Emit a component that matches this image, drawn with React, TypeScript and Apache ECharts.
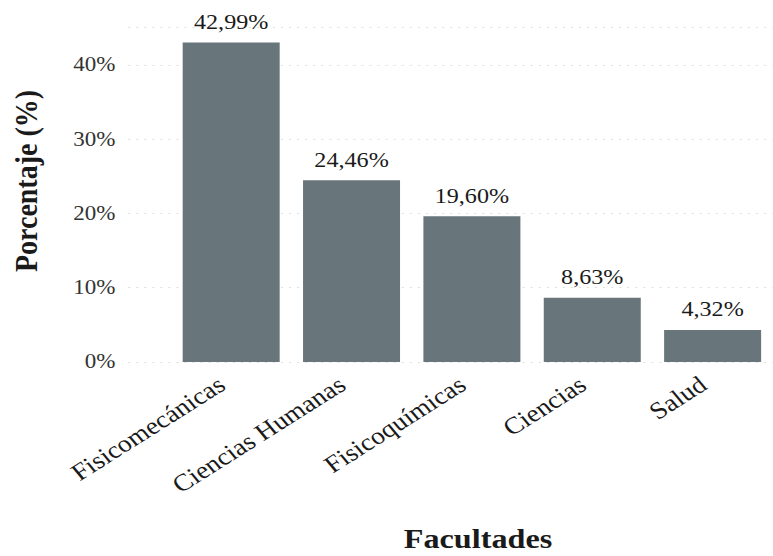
import React, { useEffect, useRef } from "react";
import * as echarts from "echarts";

const categories = ["Fisicomecánicas", "Ciencias Humanas", "Fisicoquímicas", "Ciencias", "Salud"];
const values = [42.99, 24.46, 19.6, 8.63, 4.32];
const yTicks = [0, 10, 20, 30, 40];

const FONT = "Liberation Serif";
// the reference is drawn slightly stretched horizontally
const SX = 1.15;
const W = 773;
const H = 556;
const IW = W / SX;

export default function App() {
  const ref = useRef<HTMLDivElement>(null);
  useEffect(() => {
    if (!ref.current) return;
    const chart = echarts.init(ref.current, null, { renderer: "svg" });
    const top = 27.6;
    const bottom = 194;
    chart.setOption({
      animation: false,
      backgroundColor: "#ffffff",
      textStyle: { fontFamily: FONT },
      grid: [
        { left: 128 / SX, right: -40, top, bottom, containLabel: false },
        { left: 171 / SX, width: 625 / SX, top, bottom, containLabel: false },
      ],
      xAxis: [
        { type: "value", gridIndex: 0, show: false, min: 0, max: 1 },
        {
          type: "category",
          gridIndex: 1,
          data: categories,
          axisLine: { show: false },
          axisTick: { show: false },
          axisLabel: {
            rotate: 36,
            interval: 0,
            margin: 14,
            padding: [0, 10, 0, 0],
            fontFamily: FONT,
            fontSize: 24,
            color: "#1a1a1a",
          },
        },
      ],
      yAxis: [
        {
          type: "value",
          gridIndex: 0,
          min: 0,
          max: 45,
          interval: 10,
          axisLine: { show: false },
          axisTick: { show: false },
          axisLabel: {
            formatter: (v: number) => (yTicks.includes(v) ? v + "%" : ""),
            fontFamily: FONT,
            fontSize: 20,
            color: "#333333",
            margin: 11,
          },
          splitLine: { show: true, lineStyle: { color: "#e2e2e2", type: [2, 5], width: 1 } },
        },
        { type: "value", gridIndex: 1, min: 0, max: 45, show: false, splitLine: { show: false } },
      ],
      series: [
        {
          type: "bar",
          xAxisIndex: 1,
          yAxisIndex: 1,
          data: values,
          barWidth: 97 / SX,
          itemStyle: { color: "#68757a" },
          label: {
            show: true,
            position: "top",
            distance: 10,
            fontFamily: FONT,
            fontSize: 21,
            color: "#1a1a1a",
            formatter: (p: any) => p.value.toFixed(2).replace(".", ",") + "%",
          },
        },
      ],
      graphic: [
        {
          type: "text",
          x: 26 / SX,
          y: 181,
          rotation: Math.PI / 2,
          style: {
            text: "Porcentaje (%)",
            fontFamily: FONT,
            fontSize: 28,
            fontWeight: "bold",
            fill: "#1a1a1a",
            align: "center",
            verticalAlign: "middle",
          },
        },
        {
          type: "text",
          x: 478 / SX,
          y: 539,
          style: {
            text: "Facultades",
            fontFamily: FONT,
            fontSize: 28,
            fontWeight: "bold",
            fill: "#1a1a1a",
            align: "center",
            verticalAlign: "middle",
          },
        },
      ],
    });
    return () => chart.dispose();
  }, []);
  return (
    <div style={{ width: W, height: H, position: "absolute", left: 0, top: 0, overflow: "hidden", background: "#fff" }}>
      <div
        ref={ref}
        style={{ width: IW, height: H, transform: `scaleX(${SX})`, transformOrigin: "0 0" }}
      />
    </div>
  );
}
